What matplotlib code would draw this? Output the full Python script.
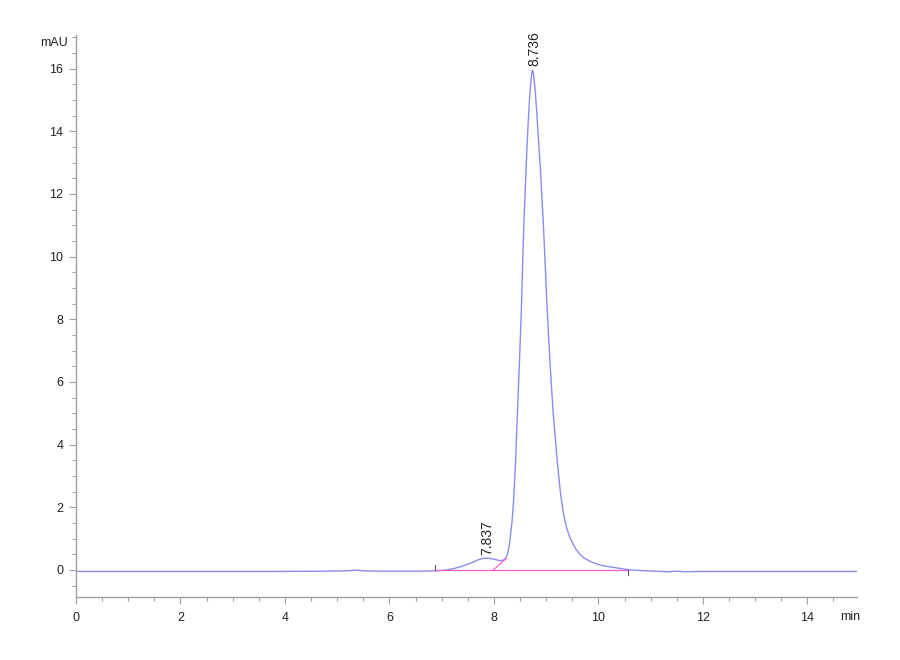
import matplotlib
matplotlib.use("Agg")
import matplotlib.pyplot as plt
from matplotlib.ticker import MultipleLocator

plt.rcParams['font.family'] = ['Liberation Sans', 'DejaVu Sans']

# ---- data ----
time_min = [0.0, 1.0, 2.0, 3.0, 4.0, 4.8, 5.2, 5.35, 5.5, 5.8, 6.2, 6.6, 6.9, 7.1,
            7.25, 7.4, 7.55, 7.7, 7.8, 7.9, 8.0, 8.1, 8.17, 8.22, 8.26, 8.29, 8.32,
            8.35, 8.38, 8.41, 8.45, 8.49, 8.525, 8.57, 8.62, 8.65, 8.68, 8.70, 8.72,
            8.736, 8.75, 8.77, 8.79, 8.82, 8.85, 8.89, 8.95, 9.02, 9.07, 9.13, 9.21,
            9.27, 9.33, 9.39, 9.45, 9.51, 9.57, 9.64, 9.72, 9.85, 10.04, 10.2, 10.36,
            10.6, 10.9, 11.2, 11.35, 11.5, 11.65, 11.9, 12.3, 12.7, 13.2, 14.0, 15.0]
signal_mau = [-0.05, -0.05, -0.05, -0.05, -0.05, -0.04, -0.03, -0.01, -0.03, -0.04, -0.04,
              -0.04, -0.03, 0.0, 0.05, 0.12, 0.21, 0.32, 0.37, 0.37, 0.34, 0.30, 0.30,
              0.36, 0.5, 0.75, 1.15, 1.6, 2.3, 3.3, 5.0, 6.7, 8.3, 10.9, 13.0, 14.1,
              15.0, 15.45, 15.8, 15.95, 15.9, 15.65, 15.3, 14.6, 13.8, 12.8, 10.9,
              8.3, 6.7, 5.1, 3.5, 2.5, 1.8, 1.35, 1.05, 0.84, 0.66, 0.51, 0.39, 0.26,
              0.15, 0.10, 0.06, 0.0, -0.03, -0.05, -0.06, -0.04, -0.06, -0.05, -0.05,
              -0.05, -0.05, -0.05, -0.05]

baseline_t = [6.88, 10.57]
baseline_v = [0.0, 0.0]
skim_t = [7.99, 8.24]
skim_v = [0.0, 0.37]
event_times = [6.88, 10.57]
event_dirs = [1, -1]

peak_times = [7.837, 8.736]
peak_heights = [0.37, 15.95]
peak_labels = ["7.837", "8.736"]

x_ticks = [0, 2, 4, 6, 8, 10, 12, 14]
y_ticks = [0, 2, 4, 6, 8, 10, 12, 14, 16]

# ---- figure ----
fig = plt.figure(figsize=(9, 6.6), dpi=100)
ax = fig.add_axes([76/900, 1 - 596.5/660, 781/900, (596.5 - 35)/660])

ax.plot(time_min, signal_mau, color='#8c8cf0', lw=1.0, solid_joinstyle='round')
ax.plot(baseline_t, baseline_v, color='#ff5fd0', lw=0.9)
ax.plot(skim_t, skim_v, color='#ff5fd0', lw=0.9)
for t, d in zip(event_times, event_dirs):
    ax.plot([t, t], [0, 0.16 * d], color='#555555', lw=0.8)

for t, h, lab in zip(peak_times, peak_heights, peak_labels):
    ax.text(t + 0.04, h + 0.12, lab, rotation=90, ha='center', va='bottom',
            fontsize=10, color='#222222')

ax.set_xlim(0, 14.95)
ax.set_ylim(-0.85, 17.07)
ax.set_xticks(x_ticks)
ax.set_yticks(y_ticks)
ax.xaxis.set_minor_locator(MultipleLocator(0.5))
ax.yaxis.set_minor_locator(MultipleLocator(0.5))

for s in ['top', 'right']:
    ax.spines[s].set_visible(False)
for s in ['left', 'bottom']:
    ax.spines[s].set_color('#a0a0a0')
    ax.spines[s].set_linewidth(1.0)

ax.tick_params(which='major', length=5, width=0.8, color='#a0a0a0',
               labelsize=9, labelcolor='#222222')
ax.tick_params(which='minor', length=3, width=0.8, color='#a0a0a0')
ax.tick_params(axis='x', pad=6)
ax.tick_params(axis='y', pad=4)

fig.text(54/900, 1 - 43/660, "mAU", ha='center', va='center', fontsize=9, color='#222222')
fig.text(850/900, 1 - 617/660, "min", ha='center', va='center', fontsize=9, color='#222222')

fig.savefig("out.png", dpi=100)
